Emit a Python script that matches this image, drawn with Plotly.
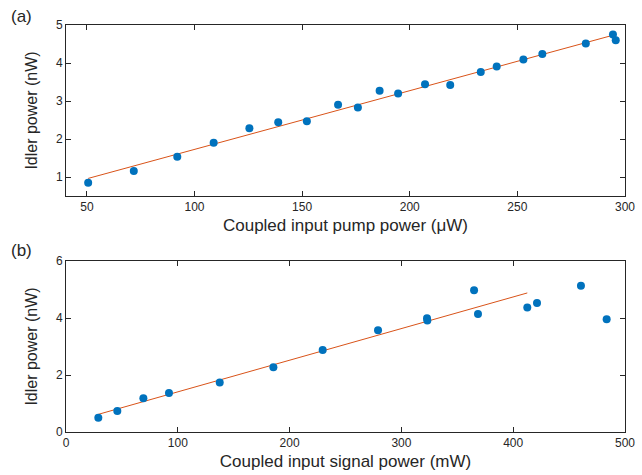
import numpy as np
import plotly.graph_objects as go

# Panel (a): idler vs coupled input pump power
pump_uW = [50.6, 71.8, 92.0, 108.9, 125.5, 138.9, 152.2, 166.7, 175.9, 186.0,
           194.6, 207.1, 218.8, 233.0, 240.4, 252.8, 261.6, 281.8, 294.4, 295.7]
idler_a = [0.85, 1.16, 1.53, 1.90, 2.28, 2.44, 2.47, 2.90, 2.83, 3.27,
           3.20, 3.44, 3.42, 3.76, 3.91, 4.09, 4.24, 4.51, 4.75, 4.60]

# Panel (b): idler vs coupled input signal power
signal_mW = [28.9, 45.9, 69.2, 92.1, 137.5, 185.5, 229.6, 279.1, 322.9, 323.2,
             365.0, 368.5, 412.6, 421.3, 460.6, 483.6]
idler_b = [0.50, 0.74, 1.18, 1.37, 1.74, 2.27, 2.88, 3.57, 3.99, 3.91,
           4.97, 4.14, 4.37, 4.53, 5.13, 3.96]
fit_b_max = 412.6  # linear fit uses points up to this signal power

xa = np.array(pump_uW); ya = np.array(idler_a)
ka, ba = np.polyfit(xa, ya, 1)
fa_x = np.array([xa.min(), xa.max()])
fa_y = ka * fa_x + ba

xb = np.array(signal_mW); yb = np.array(idler_b)
m = xb <= fit_b_max
kb, bb = np.polyfit(xb[m], yb[m], 1)
fb_x = np.array([xb[m].min(), xb[m].max()])
fb_y = kb * fb_x + bb

BLUE = "#0072BD"
ORANGE = "#D95319"
FONT = "Liberation Sans, Arial, sans-serif"
INK = "#262626"

fig = go.Figure()
fig.add_trace(go.Scatter(x=fa_x, y=fa_y, mode="lines", line=dict(color=ORANGE, width=1),
                         xaxis="x", yaxis="y", showlegend=False))
fig.add_trace(go.Scatter(x=xa, y=ya, mode="markers", marker=dict(color=BLUE, size=8),
                         xaxis="x", yaxis="y", showlegend=False))
fig.add_trace(go.Scatter(x=fb_x, y=fb_y, mode="lines", line=dict(color=ORANGE, width=1),
                         xaxis="x2", yaxis="y2", showlegend=False))
fig.add_trace(go.Scatter(x=xb, y=yb, mode="markers", marker=dict(color=BLUE, size=8),
                         xaxis="x2", yaxis="y2", showlegend=False))

axis_common = dict(showline=True, linecolor=INK, linewidth=1, mirror="ticks",
                   ticks="inside", ticklen=5, tickcolor=INK, showgrid=False,
                   zeroline=False, automargin=False,
                   tickfont=dict(family=FONT, size=12, color=INK))
xt_font = dict(family=FONT, size=17, color=INK)
yt_font = dict(family=FONT, size=16, color=INK)

fig.update_layout(
    width=642, height=475,
    margin=dict(l=0, r=0, t=0, b=0),
    paper_bgcolor="white", plot_bgcolor="white",
    xaxis=dict(domain=[66/642, 625/642], range=[40.3, 300], tickvals=[50, 100, 150, 200, 250, 300],
               title=dict(text="Coupled input pump power (μW)", standoff=5, font=xt_font),
               anchor="y", **axis_common),
    yaxis=dict(domain=[1-196/475, 1-25/475], range=[0.5, 5], tickvals=[1, 2, 3, 4, 5],
               title=dict(text="Idler power (nW)", standoff=14, font=yt_font),
               anchor="x", **axis_common),
    xaxis2=dict(domain=[66/642, 625/642], range=[0, 500], tickvals=[0, 100, 200, 300, 400, 500],
                title=dict(text="Coupled input signal power (mW)", standoff=5, font=xt_font),
                anchor="y2", **axis_common),
    yaxis2=dict(domain=[1-432/475, 1-261/475], range=[0, 6], tickvals=[0, 2, 4, 6],
                title=dict(text="Idler power (nW)", standoff=14, font=yt_font),
                anchor="x2", **axis_common),
    annotations=[
        dict(text="(a)", x=9/642, y=1-17/475, xref="paper", yref="paper", showarrow=False,
             xanchor="left", yanchor="middle", font=dict(family=FONT, size=17, color=INK)),
        dict(text="(b)", x=9/642, y=1-250/475, xref="paper", yref="paper", showarrow=False,
             xanchor="left", yanchor="middle", font=dict(family=FONT, size=17, color=INK)),
    ],
)

fig.write_html("out.html")
